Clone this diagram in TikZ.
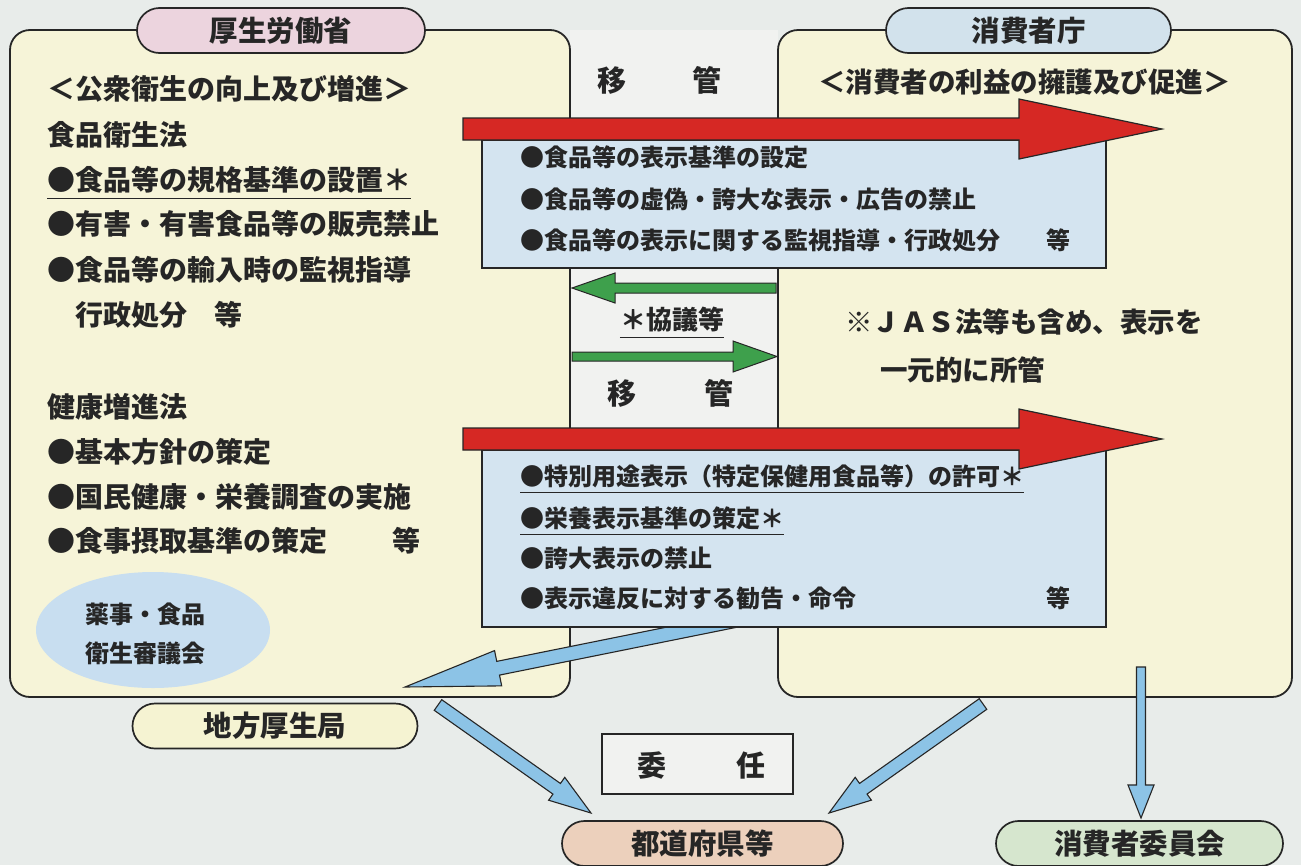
\documentclass[tikz,border=0pt]{standalone}
\usepackage{fontspec}
\setmainfont{Noto Sans CJK JP}
\usetikzlibrary{calc,shapes.misc,shapes.geometric}
\definecolor{ink}{RGB}{38,38,38}
\definecolor{bgc}{RGB}{232,236,234}
\definecolor{gapc}{RGB}{241,242,240}
\definecolor{boxy}{RGB}{246,244,216}
\definecolor{boxb}{RGB}{212,228,240}
\definecolor{ellb}{RGB}{200,222,240}
\definecolor{pinkp}{RGB}{236,212,222}
\definecolor{bluep}{RGB}{210,226,236}
\definecolor{yellp}{RGB}{245,243,210}
\definecolor{peachp}{RGB}{236,208,188}
\definecolor{greenp}{RGB}{214,230,206}
\definecolor{arrred}{RGB}{214,40,36}
\definecolor{arrgreen}{RGB}{62,160,76}
\definecolor{arrblue}{RGB}{140,195,230}
\newcommand\fatarr[6]{%
  \coordinate (fb) at ($(#3)!#6!(#2)$);
  \draw[#1] ($(#2)!#4!90:(#3)$) -- ($(fb)!#4!-90:(#2)$) -- ($(fb)!#5!-90:(#2)$) -- (#3)
    -- ($(fb)!#5!90:(#2)$) -- ($(fb)!#4!90:(#2)$) -- ($(#2)!#4!-90:(#3)$) -- cycle;
}
\begin{document}
\begin{tikzpicture}[x=1pt,y=-1pt,
  jt/.style={inner sep=0pt, anchor=west, text height=24.2pt, text depth=3.3pt,
    font=\bfseries\fontsize{27.5}{30}\selectfont, text=ink},
  jl/.style={jt, text height=24.6pt, text depth=3.4pt, font=\bfseries\fontsize{28}{30}\selectfont},
  jb/.style={jt, text height=21.1pt, text depth=2.9pt, font=\bfseries\fontsize{24}{26}\selectfont},
  jbig/.style={jt, anchor=center, text height=25.5pt, text depth=3.5pt, font=\bfseries\fontsize{29}{31}\selectfont},
  jmid/.style={jt, anchor=center, text height=22.9pt, text depth=3.1pt, font=\bfseries\fontsize{26}{28}\selectfont},
  pill/.style={rounded rectangle, draw=ink, line width=1.7pt, inner sep=0pt,
    minimum height=45pt, text height=25.1pt, text depth=3.4pt,
    font=\bfseries\fontsize{28.5}{30}\selectfont, text=ink},
  bigbox/.style={draw=ink, line width=1.8pt, fill=boxy, rounded corners=20pt, inner sep=0pt},
  bluebox/.style={draw=ink, line width=1.3pt, fill=boxb, inner sep=0pt},
  uline/.style={draw=ink, line width=1.2pt},
  redarr/.style={fill=arrred, draw=ink, line width=1.2pt, line join=miter},
  greenarr/.style={fill=arrgreen, draw=ink, line width=1pt, line join=miter},
  bluearr/.style={fill=arrblue, draw=ink, line width=1.1pt, line join=miter}
]
\useasboundingbox (0,0) rectangle (1301,865);
\fill[bgc] (0,0) rectangle (1301,865);
\fill[gapc] (570,30) rectangle (778,430);

% main boxes
\node[bigbox, minimum width=560pt, minimum height=667pt] (lbox) at (290,363.5) {};
\node[bigbox, minimum width=514pt, minimum height=667pt] (rbox) at (1035,363.5) {};
\node[pill, fill=pinkp, minimum width=288pt] (mhlw) at (281,30.5) {厚生労働省};
\node[pill, fill=bluep, minimum width=285pt] (caa) at (1028.5,30.5) {消費者庁};

% left box text
\node[jl] (l1) at (47,89) {＜公衆衛生の向上及び増進＞};
\node[jl] (l2) at (47,135) {食品衛生法};
\node[jl] (l3) at (47,180) {●食品等の規格基準の設置＊};
\draw[uline] ($(l3.south west)+(0,4)$) -- ($(l3.south east)+(0,4)$);
\node[jl] (l4) at (47,224) {●有害・有害食品等の販売禁止};
\node[jl] (l5) at (47,270) {●食品等の輸入時の監視指導};
\node[jl] (l6) at (75,315) {行政処分};
\node[jl] (l6b) at (214,315) {等};
\node[jl] (l7) at (47,407) {健康増進法};
\node[jl] (l8) at (47,452) {●基本方針の策定};
\node[jl] (l9) at (47,497) {●国民健康・栄養調査の実施};
\node[jl] (l10) at (47,541) {●食事摂取基準の策定};
\node[jl] (l10b) at (392,541) {等};

\node[ellipse, fill=ellb, minimum width=234pt, minimum height=116pt, inner sep=0pt] (council) at (153,630) {};
\node[jb] (e1) at (85,614) {薬事・食品};
\node[jb] (e2) at (85,653) {衛生審議会};

% right box text
\node[jt] (r1) at (818,82) {＜消費者の利益の擁護及び促進＞};
\node[jt] (r2) at (845,322) {※ＪＡＳ法等も含め、表示を};
\node[jt] (r3) at (880,370) {一元的に所管};

% named arrow ends
\coordinate (a1t) at (777,612);
\coordinate (a1h) at (405,687);
\coordinate (a2t) at (438,705);
\coordinate (a2h) at (591,813);
\coordinate (a3t) at (983,704);
\coordinate (a3h) at (829,813);
\coordinate (a4t) at (1141,667);
\coordinate (a4h) at (1141,818);

% blue arrows
\fatarr{bluearr}{a1t}{a1h}{7pt}{18pt}{95pt}
\fatarr{bluearr}{a2t}{a2h}{6.5pt}{14pt}{42pt}
\fatarr{bluearr}{a3t}{a3h}{6.5pt}{14pt}{42pt}
\fatarr{bluearr}{a4t}{a4h}{4.5pt}{13pt}{33pt}

% blue boxes
\node[bluebox, minimum width=624pt, minimum height=128pt] (bb1) at (794,204) {};
\node[jb] (b1) at (520,157) {●食品等の表示基準の設定};
\node[jb] (b2) at (520,199) {●食品等の虚偽・誇大な表示・広告の禁止};
\node[jb] (b3) at (520,240) {●食品等の表示に関する監視指導・行政処分};
\node[jb] (b3b) at (1046,240) {等};

\node[bluebox, minimum width=624pt, minimum height=177pt] (bb2) at (794,538.5) {};
\node[jb] (c1) at (520,476) {●特別用途表示（特定保健用食品等）の許可＊};
\draw[uline] ($(c1.south west)+(0,4)$) -- ($(c1.south east)+(0,4)$);
\node[jb] (c2) at (520,518) {●栄養表示基準の策定＊};
\draw[uline] ($(c2.south west)+(0,4)$) -- ($(c2.south east)+(0,4)$);
\node[jb] (c3) at (520,558) {●誇大表示の禁止};
\node[jb] (c4) at (520,598) {●表示違反に対する勧告・命令};
\node[jb] (c4b) at (1046,598) {等};

% red arrows
\coordinate (r1t) at (463,129);
\coordinate (r1h) at (1162,129);
\coordinate (r2t) at (463,439);
\coordinate (r2h) at (1162,439);
\fatarr{redarr}{r1t}{r1h}{11pt}{30pt}{143pt}
\fatarr{redarr}{r2t}{r2h}{11pt}{30pt}{143pt}

% middle labels
\node[jbig] (m1) at (612,80) {移};
\node[jbig] (m2) at (707,80) {管};
\node[jbig] (m3) at (622,393) {移};
\node[jbig] (m4) at (719,393) {管};
\node[jmid] (g1) at (672,320) {＊協議等};
\draw[uline] ($(g1.south west)+(0,4)$) -- ($(g1.south east)+(0,4)$);

% green arrows
\coordinate (g1t) at (776,288);
\coordinate (g1h) at (572,288);
\coordinate (g2t) at (572,356.5);
\coordinate (g2h) at (777,356.5);
\fatarr{greenarr}{g1t}{g1h}{5pt}{15pt}{43pt}
\fatarr{greenarr}{g2t}{g2h}{4.5pt}{15.5pt}{44pt}

% bottom
\node[pill, fill=yellp, minimum width=285pt] (chiho) at (275,726) {地方厚生局};
\node[pill, fill=peachp, minimum width=281pt] (pref) at (702.5,843.5) {都道府県等};
\node[pill, fill=greenp, minimum width=287pt] (ccomm) at (1139.5,843.5) {消費者委員会};
\node[draw=ink, line width=1.3pt, fill=gapc, minimum width=191pt, minimum height=60pt, inner sep=0pt] (inin) at (697.5,764) {};
\node[jbig] (i1) at (652,765) {委};
\node[jbig] (i2) at (751,765) {任};
\end{tikzpicture}
\end{document}
